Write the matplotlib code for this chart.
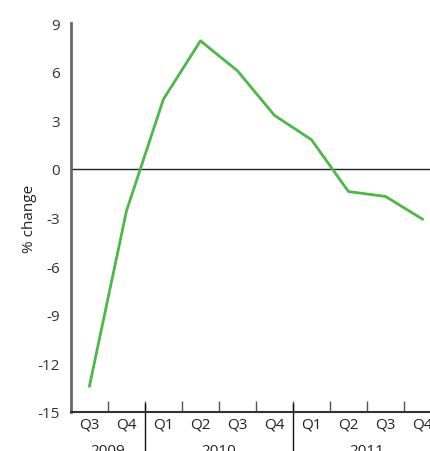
import matplotlib.pyplot as plt
import matplotlib.transforms as mtransforms
import numpy as np

plt.rcParams['font.family'] = ['Open Sans', 'DejaVu Sans']

quarters = ['Q3', 'Q4', 'Q1', 'Q2', 'Q3', 'Q4', 'Q1', 'Q2', 'Q3', 'Q4']
years = ['2009', '2009', '2010', '2010', '2010', '2010', '2011', '2011', '2011', '2011']
values = [-13.4, -2.6, 4.3, 7.9, 6.05, 3.3, 1.8, -1.4, -1.7, -3.1]
yticks = [-15, -12, -9, -6, -3, 0, 3, 6, 9]

fig = plt.figure(figsize=(4.3, 4.52), dpi=100)
ax = fig.add_axes([0.165, 0.0863, 0.8605, 0.8606])

x = np.arange(len(values))
ax.plot(x, values, color='#4cb847', lw=2, solid_joinstyle='round', zorder=3)
ax.axhline(0, color='#222222', lw=1, zorder=2)

ax.set_xlim(-0.5, len(values) - 0.5)
ax.set_ylim(-15, 9)
ax.set_yticks(yticks)
ax.set_yticklabels([str(v) for v in yticks], fontsize=11, color='#333333')
ax.tick_params(axis='y', length=0, pad=8)

ax.set_xticks(x)
ax.set_xticklabels(quarters, fontsize=11, color='#222222')
ax.tick_params(axis='x', which='major', length=0, pad=3)
ax.set_xticks(x[:-1] + 0.5, minor=True)
ax.tick_params(axis='x', which='minor', direction='in', length=8, width=1, color='#555555')

for s in ['top', 'right']:
    ax.spines[s].set_visible(False)
ax.spines['left'].set_color('#666666')
ax.spines['left'].set_linewidth(2)
ax.spines['bottom'].set_color('#333333')
ax.spines['bottom'].set_linewidth(1.5)

# year separators and labels
trans = mtransforms.blended_transform_factory(ax.transData, ax.transAxes)
bounds = [i + 0.5 for i in range(len(years) - 1) if years[i] != years[i + 1]]
for b in bounds:
    ax.plot([b, b], [-0.2, 0.02], transform=trans, color='#111111', lw=1, clip_on=False)
for yr in dict.fromkeys(years):
    idx = [i for i, y in enumerate(years) if y == yr]
    ax.text(np.mean(idx), -0.1, yr, transform=trans, ha='center', va='center',
            fontsize=11, color='#222222')

ax.set_ylabel('% change', fontsize=11, color='#222222', labelpad=0)

fig.savefig('out.png', dpi=100)
